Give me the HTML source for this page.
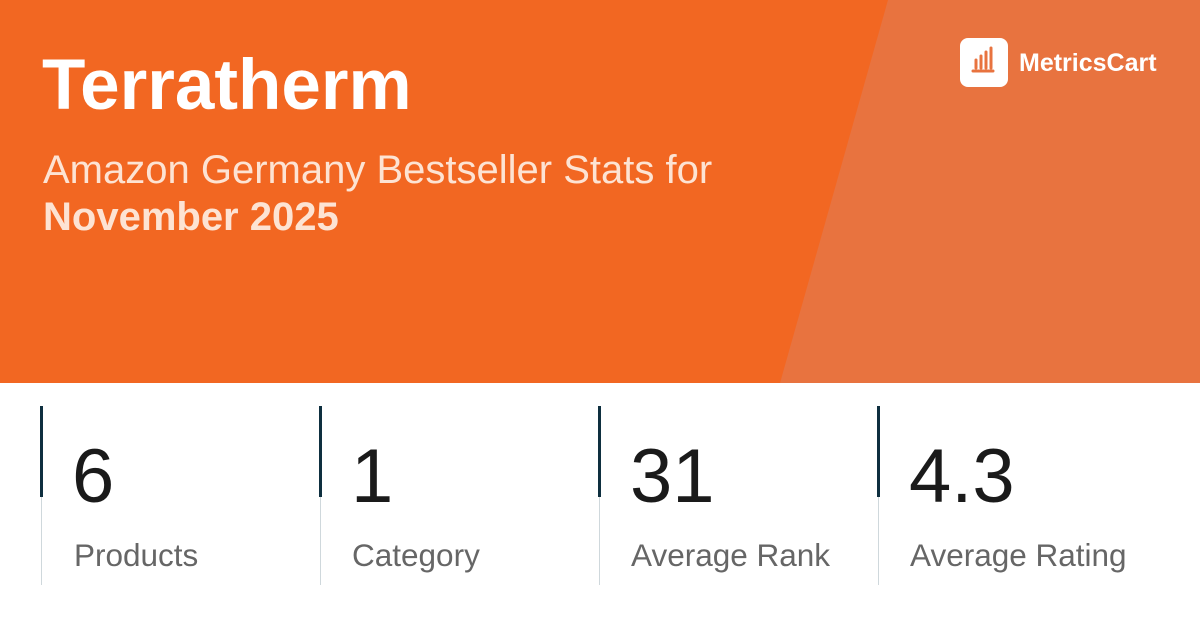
<!DOCTYPE html>
<html><head><style>
body{margin:0;width:1200px;height:628px;overflow:hidden;background:#fff;font-family:"Liberation Sans",sans-serif;position:relative}
.top{position:absolute;left:0;top:0;width:1200px;height:383px;background:#F26722}
.t{position:absolute;color:#fff;white-space:nowrap}
.bar{position:absolute;width:3px;height:91px;top:406px;background:#0E2F3F}
.ln{position:absolute;width:1px;height:88px;top:497px;background:#cfd8dc}
.n{position:absolute;top:432px;font-size:76px;color:#1a1a1a;line-height:90px}
.l{position:absolute;top:535px;font-size:31.5px;color:#666;line-height:40px}
</style></head><body>
<div class="top"></div>
<svg style="position:absolute;left:0;top:0" width="1200" height="383"><polygon points="888,0 1200,0 1200,383 780,383" fill="#E8733F"/></svg>
<div class="t" style="left:42px;top:44px;font-size:71px;font-weight:bold;line-height:84px">Terratherm</div>
<div class="t" style="left:43px;top:146px;font-size:40px;line-height:48px;color:#fde3d3">Amazon Germany Bestseller Stats for</div>
<div class="t" style="left:43px;top:193px;font-size:40px;line-height:48px;font-weight:bold;color:#fde3d3">November 2025</div>
<div style="position:absolute;left:960px;top:38px;width:48px;height:49px;background:#fff;border-radius:8px"></div>
<svg style="position:absolute;left:960px;top:38px" width="48" height="49"><g stroke="#E8733F" stroke-width="3" fill="none" stroke-linecap="round"><path d="M16 22v8M21 18v12M26 14v16M31 10v20"/><path d="M13 33h20"/></g></svg>
<div class="t" style="left:1019px;top:47px;font-size:25px;font-weight:bold;line-height:32px">MetricsCart</div>
<div class="bar" style="left:40px"></div><div class="ln" style="left:41px"></div>
<div class="bar" style="left:319px"></div><div class="ln" style="left:320px"></div>
<div class="bar" style="left:598px"></div><div class="ln" style="left:599px"></div>
<div class="bar" style="left:877px"></div><div class="ln" style="left:878px"></div>
<div class="n" style="left:72px">6</div><div class="l" style="left:74px">Products</div>
<div class="n" style="left:351px">1</div><div class="l" style="left:352px">Category</div>
<div class="n" style="left:630px">31</div><div class="l" style="left:631px">Average Rank</div>
<div class="n" style="left:909px">4.3</div><div class="l" style="left:910px">Average Rating</div>
</body></html>
